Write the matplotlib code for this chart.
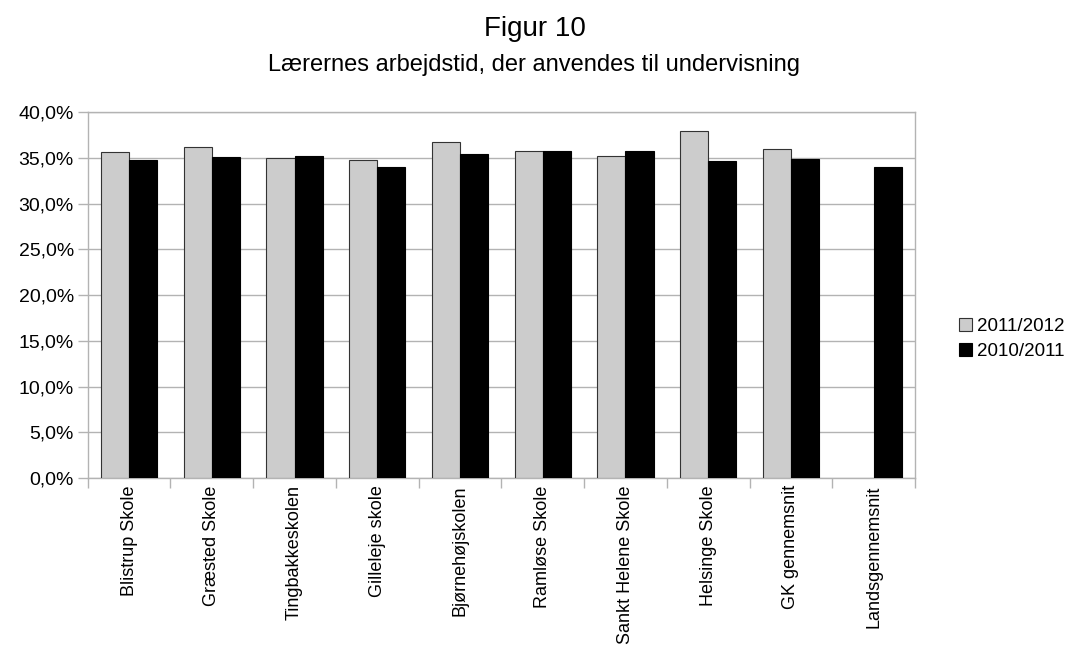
import matplotlib
matplotlib.use("Agg")
import matplotlib.pyplot as plt
import numpy as np
from matplotlib.ticker import FixedLocator, FuncFormatter

plt.rcParams['font.family'] = ['Liberation Sans', 'DejaVu Sans']

# data
skoler = ['Blistrup Skole', 'Græsted Skole', 'Tingbakkeskolen', 'Gilleleje skole',
          'Bjørnehøjskolen', 'Ramløse Skole', 'Sankt Helene Skole', 'Helsinge Skole',
          'GK gennemsnit', 'Landsgennemsnit']
aar_2011_2012 = [35.6, 36.15, 35.0, 34.8, 36.7, 35.8, 35.2, 37.9, 36.0, np.nan]
aar_2010_2011 = [34.8, 35.05, 35.25, 33.95, 35.45, 35.8, 35.7, 34.7, 34.9, 33.95]
y_ticks = [0, 5, 10, 15, 20, 25, 30, 35, 40]

fig = plt.figure(figsize=(10.69, 6.48), dpi=100)
ax = fig.add_axes([0.082, 0.262, 0.774, 0.565])

x = np.arange(len(skoler))
w = 0.34
ax.bar(x - w / 2, aar_2011_2012, w, color='#cccccc', edgecolor='#333333',
       linewidth=0.8, label='2011/2012', zorder=3)
ax.bar(x + w / 2, aar_2010_2011, w, color='black', edgecolor='black',
       linewidth=0.8, label='2010/2011', zorder=3)

ax.set_xlim(-0.5, len(skoler) - 0.5)
ax.set_ylim(0, 40)
ax.yaxis.set_major_locator(FixedLocator(y_ticks))
ax.yaxis.set_major_formatter(FuncFormatter(lambda v, p: ('%.1f%%' % v).replace('.', ',')))
ax.grid(axis='y', color='#b3b3b3', linewidth=1, zorder=0)

# category ticks at the boundaries, labels centred
ax.set_xticks(np.arange(len(skoler) + 1) - 0.5)
ax.set_xticklabels([])
ax.set_xticks(x, minor=True)
ax.set_xticklabels(skoler, minor=True, rotation=90, fontsize=13, va='top', ha='center')
ax.tick_params(axis='x', which='minor', length=0, pad=5)
ax.tick_params(axis='x', which='major', length=7, color='#b3b3b3', width=1)
ax.tick_params(axis='y', length=7, color='#b3b3b3', width=1, labelsize=14, pad=3)

for s in ax.spines.values():
    s.set_color('#b3b3b3')
    s.set_linewidth(1)

fig.text(0.5, 0.955, 'Figur 10', ha='center', va='center', fontsize=20)
fig.text(0.5, 0.900, 'Lærernes arbejdstid, der anvendes til undervisning',
         ha='center', va='center', fontsize=17)

ax.legend(loc='center left', bbox_to_anchor=(1.033, 0.38), frameon=False,
          fontsize=13.5, handlelength=0.67, handleheight=0.67, handletextpad=0.3,
          labelspacing=0.4)

fig.savefig('out.png', dpi=100)
